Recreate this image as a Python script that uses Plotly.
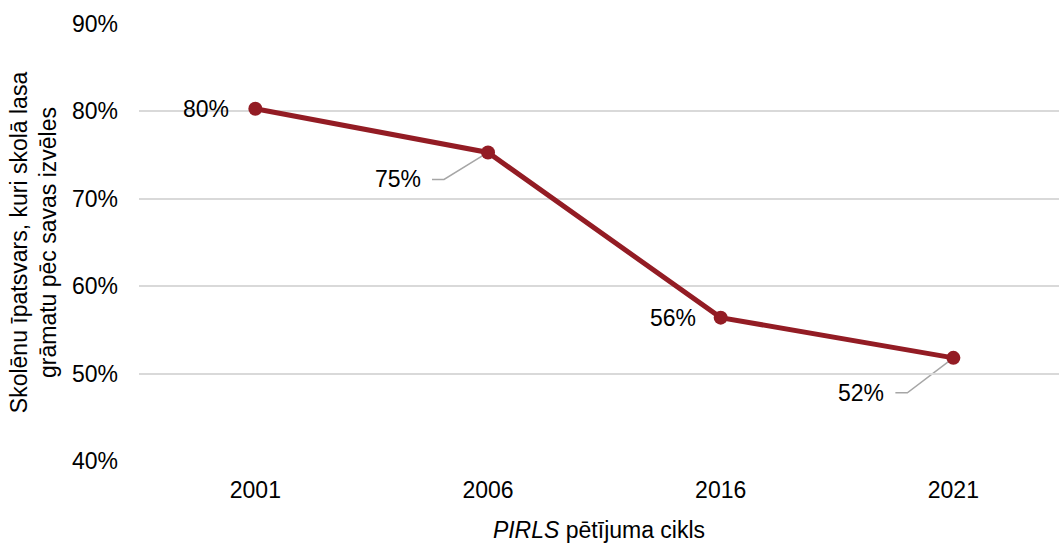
import plotly.graph_objects as go

# PIRLS cycles and share of pupils reading books of their own choice at school (%)
cycles = ["2001", "2006", "2016", "2021"]
share = [80.3, 75.3, 56.4, 51.8]
y_ticks = [40, 50, 60, 70, 80, 90]
y_tick_labels = [f"{t}%" for t in y_ticks]

LINE_COLOR = "#931c24"
TEXT_COLOR = "#000000"
GRID_COLOR = "#d9d9d9"
LEADER_COLOR = "#a6a6a6"
FONT = "Liberation Sans, Arial, sans-serif"
FSIZE = 23

fig = go.Figure()
fig.add_trace(
    go.Scatter(
        x=cycles,
        y=share,
        mode="lines+markers",
        line=dict(color=LINE_COLOR, width=5),
        marker=dict(color=LINE_COLOR, size=14),
        hoverinfo="skip",
        showlegend=False,
    )
)

# label placement per point: (x shift px, y shift px, leader line?)
label_style = [
    (-24, 0, False),
    (-65, -27, True),
    (-23, 0, False),
    (-67, -35, True),
]

for i, (cat, val, (dx, dy, leader)) in enumerate(zip(cycles, share, label_style)):
    fig.add_annotation(
        x=i,
        y=val,
        text=f"{val:.0f}%",
        showarrow=False,
        xanchor="right",
        yanchor="middle",
        xshift=dx,
        yshift=dy,
        font=dict(family=FONT, size=FSIZE, color=TEXT_COLOR),
    )
    if leader:
        # bent leader: diagonal from the marker, then a short horizontal run
        kx = dx + 21
        fig.add_shape(
            type="path",
            xref="x",
            yref="y",
            xsizemode="pixel",
            ysizemode="pixel",
            xanchor=i,
            yanchor=val,
            path=f"M 0,0 L {kx},{dy} L {dx + 9},{dy}",
            line=dict(color=LEADER_COLOR, width=1.5),
            layer="below",
        )

fig.update_layout(
    width=1059,
    height=543,
    margin=dict(l=139, r=0, t=24, b=82),
    paper_bgcolor="white",
    plot_bgcolor="white",
    font=dict(family=FONT, size=FSIZE, color=TEXT_COLOR),
    xaxis=dict(
        type="category",
        range=[-0.5, 3.454],
        showgrid=False,
        zeroline=False,
        showline=False,
        ticks="",
        ticklabelstandoff=13,
        title=dict(
            text="<i>PIRLS</i> pētījuma cikls",
            standoff=22,
            font=dict(family=FONT, size=FSIZE, color=TEXT_COLOR),
        ),
    ),
    yaxis=dict(
        range=[40, 90],
        tickvals=y_ticks,
        ticktext=y_tick_labels,
        showgrid=True,
        gridcolor=GRID_COLOR,
        gridwidth=2,
        zeroline=False,
        showline=False,
        ticks="",
        ticklabelstandoff=20,
        title=dict(
            text="Skolēnu īpatsvars, kuri skolā lasa<br>grāmatu pēc savas izvēles",
            standoff=8,
            font=dict(family=FONT, size=FSIZE, color=TEXT_COLOR),
        ),
    ),
)

fig.write_html("out.html")
